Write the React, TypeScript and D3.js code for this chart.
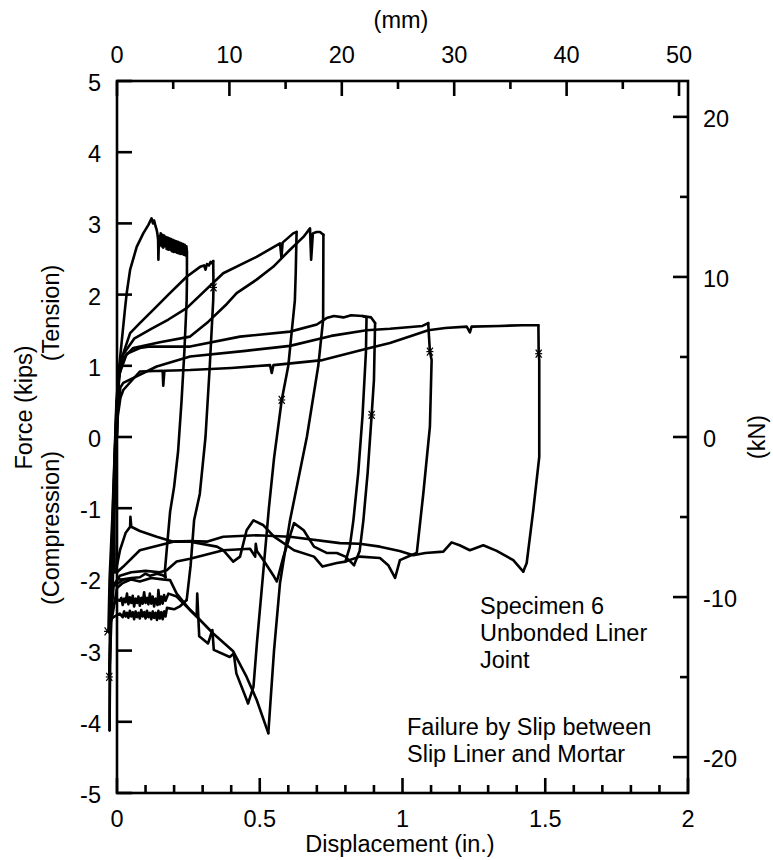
import React from "react";
import * as d3 from "d3";

// ---------- axis values ----------
const xMajorTicks = [0, 0.5, 1, 1.5, 2];
const xMinorTicks = [0.1, 0.2, 0.3, 0.4, 0.6, 0.7, 0.8, 0.9, 1.1, 1.2, 1.3, 1.4, 1.6, 1.7, 1.8, 1.9];
const yTicks = [-5, -4, -3, -2, -1, 0, 1, 2, 3, 4, 5];
const mmMajor = [0, 10, 20, 30, 40, 50];
const mmMinor = [5, 15, 25, 35, 45];
const kNMajor = [-20, -10, 0, 10, 20];
const kNMinor = [-15, -5, 5, 15];

// ---------- traced data (displacement in., force kips) ----------
const cycle1Load: [number, number][] = [
  [0.0, 0.0], [0.002, 0.5], [0.008, 1.0], [0.018, 1.4], [0.028, 1.8], [0.034, 2.02], [0.046, 2.35],
  [0.069, 2.67], [0.092, 2.86], [0.11, 2.98], [0.116, 3.03], [0.121, 3.07], [0.126, 3.0], [0.13, 3.04],
  [0.135, 2.96], [0.139, 2.91], [0.142, 2.84], [0.144, 2.77], [0.145, 2.49], [0.147, 2.82],
  [0.15, 2.7], [0.153, 2.86], [0.156, 2.68], [0.159, 2.84], [0.162, 2.66], [0.165, 2.83], [0.168, 2.68],
  [0.171, 2.81], [0.174, 2.64], [0.177, 2.8], [0.18, 2.63], [0.183, 2.79], [0.186, 2.63], [0.189, 2.78],
  [0.192, 2.61], [0.195, 2.77], [0.198, 2.6], [0.201, 2.76], [0.204, 2.6], [0.207, 2.75], [0.21, 2.59],
  [0.213, 2.74], [0.216, 2.58], [0.219, 2.73], [0.222, 2.57], [0.225, 2.72], [0.228, 2.57], [0.231, 2.71],
  [0.234, 2.56], [0.237, 2.7], [0.24, 2.55], [0.243, 2.68], [0.245, 2.6],
];
const cycle1Unload: [number, number][] = [
  [0.245, 2.6], [0.245, 2.2], [0.244, 1.92], [0.236, 1.2], [0.226, 0.5], [0.214, -0.2], [0.2, -0.7],
  [0.186, -1.05], [0.176, -1.5], [0.168, -1.87], [0.17, -1.97],
];
const cycle1Comp: [number, number][] = [
  [0.17, -1.97], [0.16, -1.94], [0.14, -1.92], [0.116, -1.95], [0.1, -1.92], [0.08, -1.97], [0.05, -1.98],
  [0.022, -2.0], [0.005, -2.05], [-0.012, -2.1], [-0.022, -2.6], [-0.025, -3.2], [-0.026, -4.12],
];
const cycle2Load: [number, number][] = [
  [-0.026, -4.12], [-0.024, -3.0], [-0.019, -2.0], [-0.012, -1.0], [-0.006, -0.2], [0.0, 0.5],
  [0.008, 0.9], [0.02, 1.15], [0.046, 1.46], [0.08, 1.6], [0.133, 1.81], [0.18, 2.0], [0.244, 2.25],
  [0.291, 2.39], [0.305, 2.41], [0.31, 2.35], [0.315, 2.43], [0.322, 2.41], [0.328, 2.46], [0.333, 2.44],
  [0.337, 2.47],
];
const cycle2Unload: [number, number][] = [
  [0.337, 2.47], [0.338, 2.1], [0.337, 1.92], [0.325, 1.0], [0.31, 0.0], [0.29, -0.8], [0.27, -1.17],
  [0.258, -1.8], [0.244, -2.29],
];
const cycle2Comp: [number, number][] = [
  [0.244, -2.29], [0.22, -2.38], [0.2, -2.42], [0.175, -2.4], [0.17, -2.52], [0.165, -2.45], [0.16, -2.56],
  [0.155, -2.46], [0.15, -2.55], [0.145, -2.44], [0.14, -2.57], [0.135, -2.47], [0.13, -2.54], [0.125, -2.45],
  [0.12, -2.56], [0.115, -2.47], [0.11, -2.53], [0.105, -2.44], [0.1, -2.55], [0.095, -2.46], [0.09, -2.52],
  [0.085, -2.43], [0.08, -2.55], [0.075, -2.47], [0.07, -2.53], [0.065, -2.45], [0.06, -2.56], [0.055, -2.46],
  [0.05, -2.52], [0.045, -2.44], [0.04, -2.54], [0.035, -2.47], [0.03, -2.52], [0.025, -2.45], [0.02, -2.53],
  [0.01, -2.48], [0.0, -2.5], [-0.02, -2.55], [-0.03, -2.73],
];
const cycle3Load: [number, number][] = [
  [-0.03, -2.73], [-0.026, -2.0], [-0.016, -1.1], [-0.008, -0.2], [-0.002, 0.5], [0.006, 0.9],
  [0.02, 1.15], [0.06, 1.38], [0.12, 1.52], [0.18, 1.65], [0.244, 1.81], [0.372, 2.3], [0.489, 2.53],
  [0.571, 2.72], [0.576, 2.52], [0.58, 2.73], [0.617, 2.86], [0.629, 2.88],
];
const cycle3Unload: [number, number][] = [
  [0.629, 2.88], [0.626, 2.3], [0.623, 1.92], [0.6, 1.0], [0.577, 0.52], [0.55, -0.3], [0.532, -1.0],
  [0.51, -2.0], [0.49, -2.9], [0.478, -3.51], [0.459, -3.74],
];
const cycle3Comp: [number, number][] = [
  [0.459, -3.74], [0.418, -3.32], [0.409, -3.04], [0.395, -3.09], [0.339, -2.99], [0.334, -2.71],
  [0.319, -2.9], [0.288, -2.8], [0.281, -2.2], [0.279, -2.52], [0.256, -2.43], [0.209, -2.2],
  [0.186, -2.01], [0.16, -2.0], [0.12, -1.98], [0.08, -2.03], [0.05, -2.0], [0.02, -2.05], [0.0, -2.12],
  [-0.02, -2.6], [-0.027, -3.37],
];
const cycle4Load: [number, number][] = [
  [-0.027, -3.37], [-0.024, -2.5], [-0.018, -1.5], [-0.01, -0.5], [-0.003, 0.3], [0.005, 0.8],
  [0.02, 1.1], [0.057, 1.25], [0.15, 1.33], [0.256, 1.41], [0.32, 1.62], [0.38, 1.85], [0.419, 2.02],
  [0.489, 2.21], [0.547, 2.39], [0.606, 2.63], [0.653, 2.81], [0.676, 2.93], [0.68, 2.49], [0.686, 2.86],
  [0.699, 2.88], [0.711, 2.88], [0.723, 2.84],
];
const cycle4Unload: [number, number][] = [
  [0.723, 2.84], [0.722, 1.65], [0.705, 1.0], [0.665, 0.0], [0.606, -1.17], [0.571, -2.05],
  [0.55, -3.0], [0.53, -4.16],
];
const cycle4Comp: [number, number][] = [
  [0.53, -4.16], [0.489, -3.69], [0.454, -3.37], [0.407, -3.01], [0.337, -2.76], [0.291, -2.57],
  [0.209, -2.24], [0.18, -2.2], [0.17, -2.3], [0.165, -2.22], [0.16, -2.34], [0.155, -2.24], [0.15, -2.35],
  [0.145, -2.15], [0.142, -2.36], [0.135, -2.27], [0.13, -2.38], [0.125, -2.24], [0.12, -2.34], [0.115, -2.2],
  [0.11, -2.35], [0.105, -2.26], [0.1, -2.33], [0.095, -2.18], [0.09, -2.34], [0.085, -2.26], [0.08, -2.37],
  [0.075, -2.24], [0.07, -2.33], [0.065, -2.27], [0.06, -2.38], [0.055, -2.23], [0.05, -2.33], [0.045, -2.25],
  [0.04, -2.35], [0.035, -2.2], [0.03, -2.32], [0.025, -2.27], [0.02, -2.36], [0.015, -2.26], [0.01, -2.3],
  [0.0, -2.28], [-0.02, -2.4],
];
const cycle5Load: [number, number][] = [
  [-0.022, -2.4], [-0.02, -2.0], [-0.013, -1.12], [-0.007, -0.18], [0.0, 0.5], [0.01, 0.9],
  [0.034, 1.17], [0.08, 1.25], [0.116, 1.27], [0.256, 1.27], [0.431, 1.41], [0.606, 1.48], [0.7, 1.58],
  [0.734, 1.67], [0.76, 1.7], [0.793, 1.68], [0.82, 1.71], [0.86, 1.7], [0.874, 1.68],
];
const cycle5Unload: [number, number][] = [
  [0.874, 1.68], [0.872, 1.2], [0.86, 0.3], [0.845, -0.5], [0.828, -1.17], [0.815, -1.55], [0.8, -1.75],
];
const cycle5bLoad: [number, number][] = [
  [0.86, 1.7], [0.89, 1.68], [0.904, 1.6],
];
const cycle5bUnload: [number, number][] = [
  [0.904, 1.6], [0.9, 0.8], [0.892, 0.31], [0.878, -0.5], [0.863, -1.17], [0.85, -1.6], [0.83, -1.8],
];
const cycle5Comp: [number, number][] = [
  [0.83, -1.8], [0.8, -1.68], [0.77, -1.63], [0.736, -1.63], [0.69, -1.54], [0.654, -1.31], [0.62, -1.21],
  [0.583, -1.68], [0.56, -2.03], [0.55, -1.96], [0.513, -1.73], [0.49, -1.6], [0.486, -1.5], [0.484, -1.68],
  [0.466, -1.57], [0.372, -1.59], [0.256, -1.71], [0.209, -1.75], [0.174, -1.87], [0.15, -1.9],
  [0.1, -1.88], [0.05, -1.9], [0.01, -1.95], [-0.015, -2.1],
];
const cycle6Load: [number, number][] = [
  [-0.015, -2.1], [-0.01, -1.2], [-0.004, -0.3], [0.003, 0.4], [0.012, 0.7], [0.022, 0.76], [0.139, 0.99],
  [0.256, 1.13], [0.45, 1.21], [0.606, 1.28], [0.75, 1.42], [0.874, 1.5], [0.956, 1.52], [1.07, 1.56],
  [1.09, 1.6],
];
const cycle6Unload: [number, number][] = [
  [1.09, 1.6], [1.096, 1.2], [1.102, 1.08], [1.096, 0.145], [1.073, -0.79], [1.05, -1.63],
];
const cycle6Comp: [number, number][] = [
  [1.05, -1.63], [1.03, -1.66], [0.991, -1.73], [0.974, -1.98], [0.95, -1.8], [0.921, -1.7], [0.85, -1.68],
  [0.8, -1.75], [0.77, -1.77], [0.72, -1.82], [0.69, -1.68], [0.62, -1.59], [0.55, -1.4], [0.513, -1.24],
  [0.478, -1.17], [0.454, -1.31], [0.431, -1.68], [0.407, -1.75], [0.372, -1.59], [0.35, -1.54],
  [0.256, -1.47], [0.197, -1.47], [0.08, -1.59], [0.022, -1.82], [0.0, -1.9], [-0.008, -1.9],
];
const cycle7Load: [number, number][] = [
  [-0.008, -1.9], [-0.01, -1.0], [-0.004, -0.2], [0.003, 0.3], [0.012, 0.55], [0.022, 0.66], [0.08, 0.92],
  [0.16, 0.93], [0.162, 0.72], [0.166, 0.93], [0.256, 0.94], [0.4, 0.97], [0.536, 1.01], [0.542, 0.9],
  [0.548, 1.01], [0.72, 1.08], [0.874, 1.24], [0.956, 1.32], [1.03, 1.42], [1.09, 1.5], [1.15, 1.53],
  [1.225, 1.55], [1.236, 1.47], [1.242, 1.55], [1.34, 1.56], [1.42, 1.57], [1.476, 1.57],
];
const cycle7Unload: [number, number][] = [
  [1.476, 1.57], [1.477, 1.17], [1.479, 1.08], [1.479, -0.28], [1.458, -1.03], [1.435, -1.77], [1.423, -1.89],
];
const cycle7Comp: [number, number][] = [
  [1.423, -1.89], [1.41, -1.83], [1.388, -1.73], [1.33, -1.6], [1.283, -1.52], [1.236, -1.59], [1.2, -1.52],
  [1.172, -1.48], [1.143, -1.61], [1.08, -1.63], [1.038, -1.66], [0.99, -1.6], [0.921, -1.54], [0.85, -1.5],
  [0.781, -1.49], [0.606, -1.4], [0.489, -1.38], [0.372, -1.4], [0.314, -1.47], [0.256, -1.46],
  [0.197, -1.47], [0.139, -1.4], [0.08, -1.32], [0.05, -1.26], [0.047, -1.12], [0.046, -1.26],
  [0.03, -1.35], [0.0105, -1.59], [0.0, -1.8],
];

const curves = [
  cycle1Load, cycle1Unload, cycle1Comp, cycle2Load, cycle2Unload, cycle2Comp,
  cycle3Load, cycle3Unload, cycle3Comp, cycle4Load, cycle4Unload, cycle4Comp,
  cycle5Load, cycle5Unload, cycle5bLoad, cycle5bUnload, cycle5Comp,
  cycle6Load, cycle6Unload, cycle6Comp, cycle7Load, cycle7Unload, cycle7Comp,
];

const starMarks: [number, number][] = [
  [-0.033, -2.73], [-0.027, -3.37], [0.892, 0.31], [1.096, 1.2], [1.477, 1.17], [0.577, 0.52], [0.338, 2.1],
];

// ---------- labels ----------
const titleBottom = "Displacement (in.)";
const titleTop = "(mm)";
const titleLeft = "Force (kips)";
const titleLeft2a = "(Tension)";
const titleLeft2b = "(Compression)";
const titleRight = "(kN)";
const noteLines1 = ["Specimen 6", "Unbonded Liner", "Joint"];
const noteLines2 = ["Failure by Slip between", "Slip Liner and Mortar"];

const W = 773;
const H = 860;
const L = 117, R = 688, T = 81, B = 793;
const FONT = "'Liberation Sans', Arial, Helvetica, sans-serif";
const FS = 23.5;

export default function App() {
  const x = d3.scaleLinear().domain([0, 2]).range([L, R]);
  const y = d3.scaleLinear().domain([-5, 5]).range([B, T]);
  const xmm = d3.scaleLinear().domain([0, 50.8]).range([L, R]);
  const ykN = d3.scaleLinear().domain([-5 * 4.448, 5 * 4.448]).range([B, T]);
  const line = d3.line<[number, number]>().x((d) => x(d[0])).y((d) => y(d[1])).curve(d3.curveLinear);
  const sw = 2.6;
  const major = 15, minor = 8;

  return (
    <svg width={W} height={H} style={{ position: "absolute", left: 0, top: 0, background: "#fff" }}
      fontFamily={FONT} fontSize={FS}>
      <rect x={0} y={0} width={W} height={H} fill="#fff" />
      {/* curves */}
      <g fill="none" stroke="#000" strokeWidth={2.6} strokeLinejoin="round" strokeLinecap="round">
        {curves.map((c, i) => <path key={i} d={line(c) || ""} />)}
      </g>
      <g stroke="#000" strokeWidth={1.2}>
        {starMarks.map((p, i) => {
          const cx = x(p[0]), cy = y(p[1]);
          return (
            <g key={i}>
              <line x1={cx - 3.5} y1={cy} x2={cx + 3.5} y2={cy} />
              <line x1={cx - 3} y1={cy - 4} x2={cx + 3} y2={cy + 4} />
              <line x1={cx + 3} y1={cy - 4} x2={cx - 3} y2={cy + 4} />
            </g>
          );
        })}
      </g>
      {/* frame */}
      <rect x={L} y={T} width={R - L} height={B - T} fill="none" stroke="#000" strokeWidth={sw} />
      {/* ticks */}
      <g stroke="#000" strokeWidth={sw}>
        {xMajorTicks.map((v) => <line key={"xb" + v} x1={x(v)} x2={x(v)} y1={B} y2={B - major} />)}
        {xMinorTicks.map((v) => <line key={"xm" + v} x1={x(v)} x2={x(v)} y1={B} y2={B - minor} />)}
        {mmMajor.map((v) => <line key={"tm" + v} x1={xmm(v)} x2={xmm(v)} y1={T} y2={T + major} />)}
        {mmMinor.map((v) => <line key={"tn" + v} x1={xmm(v)} x2={xmm(v)} y1={T} y2={T + minor} />)}
        {yTicks.map((v) => <line key={"yl" + v} x1={L} x2={L + major} y1={y(v)} y2={y(v)} />)}
        {kNMajor.map((v) => <line key={"rk" + v} x1={R} x2={R - major} y1={ykN(v)} y2={ykN(v)} />)}
        {kNMinor.map((v) => <line key={"rn" + v} x1={R} x2={R - minor} y1={ykN(v)} y2={ykN(v)} />)}
      </g>
      {/* tick labels */}
      <g fill="#000">
        {xMajorTicks.map((v) => (
          <text key={"lx" + v} x={x(v)} y={827} textAnchor="middle">{String(v)}</text>
        ))}
        {mmMajor.map((v) => (
          <text key={"lm" + v} x={xmm(v)} y={63} textAnchor="middle">{String(v)}</text>
        ))}
        {yTicks.map((v) => (
          <text key={"ly" + v} x={101} y={y(v) + 10} textAnchor="end">{String(v)}</text>
        ))}
        {kNMajor.map((v) => (
          <text key={"lk" + v} x={703} y={ykN(v) + 10} textAnchor="start">{String(v)}</text>
        ))}
        <text x={400} y={852} textAnchor="middle">{titleBottom}</text>
        <text x={401} y={28} textAnchor="middle">{titleTop}</text>
        <text transform="translate(31.7,407.5) rotate(-90)" textAnchor="middle">{titleLeft}</text>
        <text transform="translate(59,313) rotate(-90)" textAnchor="middle">{titleLeft2a}</text>
        <text transform="translate(59,528) rotate(-90)" textAnchor="middle">{titleLeft2b}</text>
        <text transform="translate(765,437) rotate(-90)" textAnchor="middle">{titleRight}</text>
        {noteLines1.map((s, i) => (
          <text key={"n1" + i} x={480} y={614 + i * 27}>{s}</text>
        ))}
        {noteLines2.map((s, i) => (
          <text key={"n2" + i} x={407} y={735 + i * 27}>{s}</text>
        ))}
      </g>
    </svg>
  );
}
